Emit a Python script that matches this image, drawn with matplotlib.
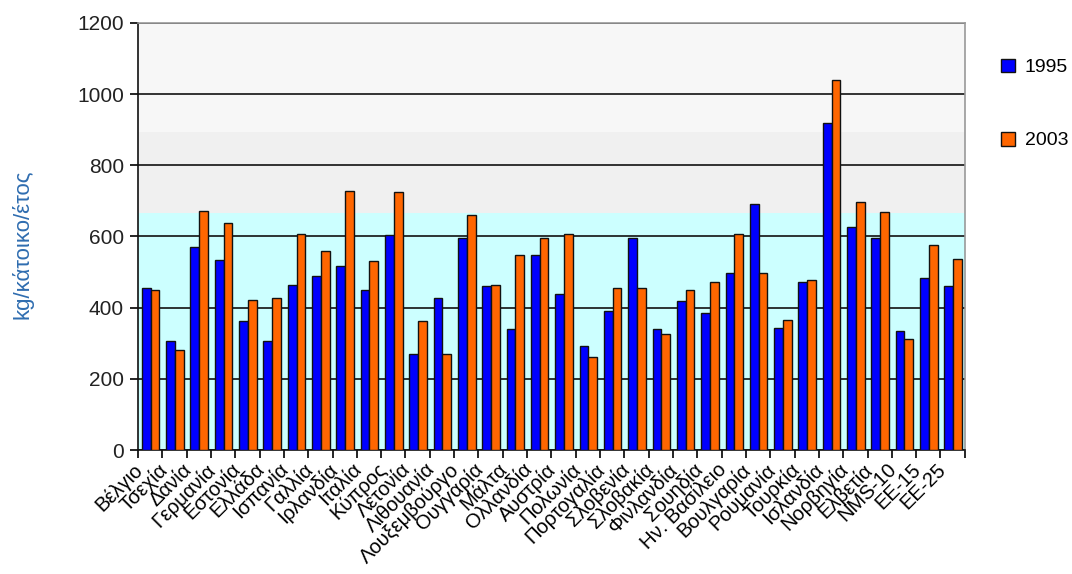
import matplotlib.pyplot as plt
import matplotlib.transforms as mtransforms
import numpy as np

plt.rcParams["font.family"] = ["Liberation Sans", "DejaVu Sans"]

countries = [
    "Βέλγιο", "Τσεχία", "Δανία", "Γερμανία", "Εστονία", "Ελλάδα", "Ισπανία",
    "Γαλλία", "Ιρλανδία", "Ιταλία", "Κύπρος", "Λετονία", "Λιθουανία",
    "Λουξεμβούργο", "Ουγγαρία", "Μάλτα", "Ολλανδία", "Αυστρία", "Πολωνία",
    "Πορτογαλία", "Σλοβενία", "Σλοβακία", "Φινλανδία", "Σουηδία",
    "Ην. Βασίλειο", "Βουλγαρία", "Ρουμανία", "Τουρκία", "Ισλανδία",
    "Νορβηγία", "Ελβετία", "NMS-10", "ΕΕ-15", "ΕΕ-25",
]
waste_1995 = [
    455, 305, 570, 535, 362, 305, 463, 488, 517, 450, 603, 270, 428, 597,
    460, 340, 548, 437, 292, 390, 597, 340, 418, 385, 497, 690, 343, 473,
    920, 628, 597, 335, 483, 460,
]
waste_2003 = [
    450, 282, 672, 637, 422, 427, 608, 558, 729, 530, 725, 362, 270, 660,
    465, 548, 597, 608, 260, 455, 455, 325, 450, 473, 608, 497, 365, 478,
    1040, 697, 668, 312, 575, 538,
]
years = ["1995", "2003"]

fig = plt.figure(figsize=(10.72, 5.74), dpi=100)
ax = fig.add_axes([0.1287, 0.216, 0.7713, 0.744])

# background bands
ax.axhspan(0, 666, color="#CCFFFF", zorder=0, lw=0)
ax.axhspan(666, 894, color="#F0F0F0", zorder=0, lw=0)
ax.axhspan(894, 1200, color="#F7F7F7", zorder=0, lw=0)

x = np.arange(len(countries))
w = 0.36
ax.bar(x - w / 2 + 0.02, waste_1995, w, color="#0000FF", edgecolor="#111111",
       linewidth=1.0, label=years[0], zorder=3)
ax.bar(x + w / 2 + 0.02, waste_2003, w, color="#FF6600", edgecolor="#111111",
       linewidth=1.0, label=years[1], zorder=3)

ax.set_xlim(-0.5, len(countries) - 0.5)
ax.set_ylim(0, 1200)
ax.set_yticks(range(0, 1201, 200))
ax.grid(axis="y", color="#111111", linewidth=1.2, zorder=1)
ax.tick_params(axis="y", labelsize=15, length=6, width=1.2, direction="out",
               pad=4, labelcolor="#222222")

ax.set_xticks(x)
ax.set_xticks(np.arange(-0.5, len(countries)), minor=True)
ax.tick_params(axis="x", which="major", length=0, pad=7)
ax.tick_params(axis="x", which="minor", length=6, width=1.2)
ax.set_xticklabels(countries, rotation=45, ha="right", va="top",
                   rotation_mode="anchor", fontsize=14.5)

# labels sit a bit left of the group centre
shift = mtransforms.ScaledTranslation(-0.17, 0, fig.dpi_scale_trans)
for lbl in ax.get_xticklabels():
    lbl.set_transform(lbl.get_transform() + shift)

for side in ["left", "bottom"]:
    ax.spines[side].set_color("#111111")
    ax.spines[side].set_linewidth(1.2)
for side in ["top", "right"]:
    ax.spines[side].set_color("#999999")
    ax.spines[side].set_linewidth(1.2)

fig.text(0.021, 0.575, "kg/κάτοικο/έτος", rotation=90, ha="center",
         va="center", fontsize=16, color="#2F6DB0")

fig.legend(loc="upper left", bbox_to_anchor=(0.934, 0.898), frameon=False,
           fontsize=14, handlelength=0.72, handleheight=0.72,
           labelspacing=2.85, handletextpad=0.5, borderaxespad=0,
           borderpad=0)

fig.savefig("out.png", dpi=100)
